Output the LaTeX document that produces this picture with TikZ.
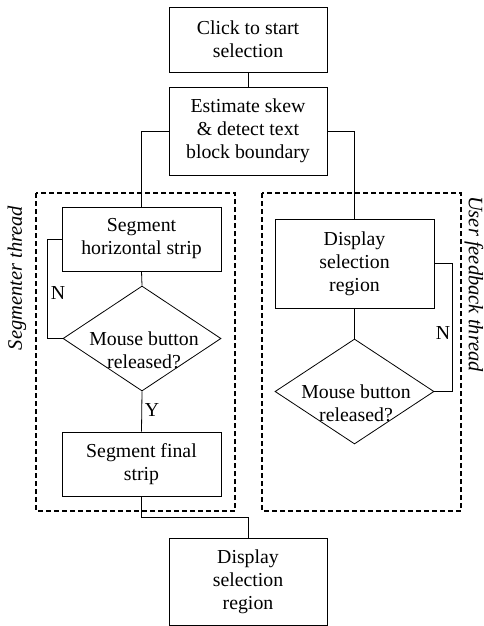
\documentclass[tikz,border=0pt]{standalone}
\usepackage{fontspec}
\setmainfont{Liberation Serif}
\usetikzlibrary{shapes.geometric}
\begin{document}
\begin{tikzpicture}[x=1pt,y=-1pt,
  every node/.style={font=\fontsize{19.8}{23}\selectfont},
  box/.style={draw,line width=0.8pt,align=center,inner sep=0pt},
  dia/.style={draw,diamond,line width=0.8pt,inner sep=0pt},
  conn/.style={line width=0.8pt},
  thread/.style={draw,dashed,line width=1.5pt,dash pattern=on 5pt off 3pt},
  lab/.style={inner sep=0pt},
  tlab/.style={inner sep=0pt,font=\fontsize{20.5}{23}\selectfont\itshape}
]
\useasboundingbox (0,0) rectangle (484,626);
% threads
\draw[thread] (36,193) rectangle (235,511);
\draw[thread] (262,193) rectangle (461,511);
\node[tlab,rotate=90] (t1) at (17,278) {Segmenter thread};
\node[tlab,rotate=-90] (t2) at (474,284) {User feedback thread};
% nodes
\node[box,minimum width=158pt,minimum height=65pt] (b1) at (248,39.5) {Click to start\\selection};
\node[box,minimum width=158pt,minimum height=88pt] (b2) at (248,131) {Estimate skew\\\& detect text\\block boundary};
\node[box,minimum width=159pt,minimum height=64pt] (b3) at (141.5,239) {Segment\\horizontal strip};
\node[dia,minimum width=158pt,minimum height=105pt] (d1) at (142,338.5) {};
\node[lab,align=center] (d1t) at (144,350) {Mouse button\\released?};
\node[box,minimum width=159pt,minimum height=64pt] (b4) at (141.5,464) {Segment final\\strip};
\node[box,minimum width=159pt,minimum height=89pt] (b5) at (354.5,263.5) {Display\\selection\\region};
\node[dia,minimum width=159pt,minimum height=105pt] (d2) at (354.5,391.5) {};
\node[lab,align=center] (d2t) at (356,403) {Mouse button\\released?};
\node[box,minimum width=158pt,minimum height=87pt] (b6) at (248,581.5) {Display\\selection\\region};
% connectors
\draw[conn] (b1.south) -- (b2.north);
\draw[conn] (b2.west) -| (b3.north);
\draw[conn] (b2.east) -| (b5.north);
\draw[conn] (b3.south) -- (d1.north);
\draw[conn] (b3.west) -- ++(-14,0) |- (d1.west);
\draw[conn] (d1.south) -- (b4.north);
\draw[conn] (b4.south) -- ++(0,21) -| (b6.north);
\draw[conn] (b5.south) -- (d2.north);
\draw[conn] (b5.east) -- ++(18,0) |- (d2.east);
% labels
\node[lab] (nl) at (58,293) {N};
\node[lab] (yl) at (152,410) {Y};
\node[lab] (nr) at (443,333) {N};
\end{tikzpicture}
\end{document}
